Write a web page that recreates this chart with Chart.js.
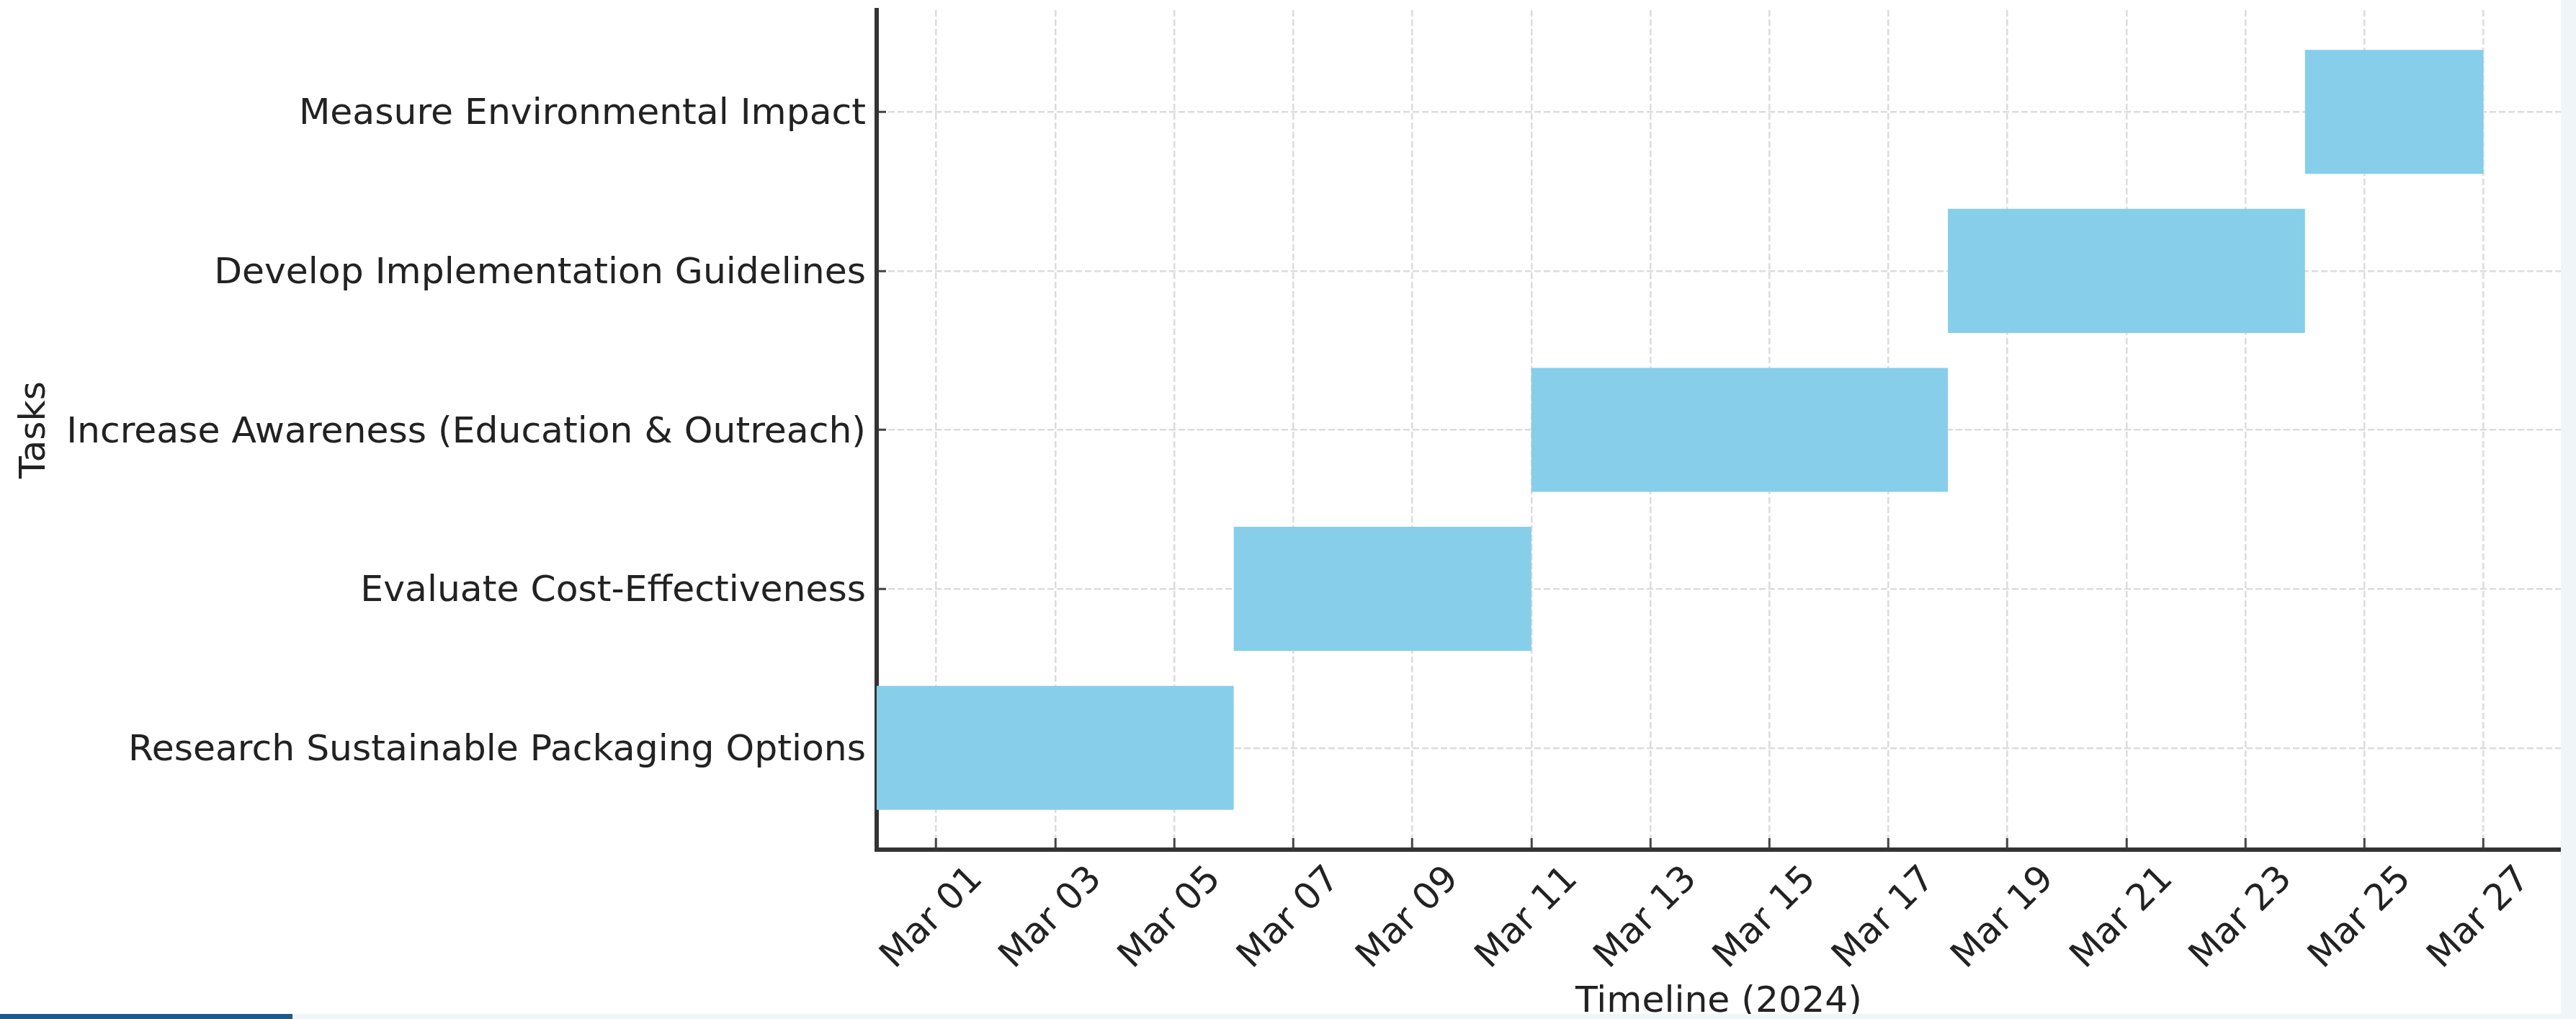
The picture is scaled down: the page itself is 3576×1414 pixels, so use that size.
<!DOCTYPE html>
<html>
<head>
<meta charset="utf-8">
<script src="https://cdn.jsdelivr.net/npm/chart.js@4.4.1/dist/chart.umd.min.js"></script>
<style>
  html, body { margin: 0; padding: 0; background: #f0f5f7; width: 3576px; height: 1414px; overflow: hidden; }
  #wrap { position: absolute; left: 0; top: 0; width: 3555px; height: 1407px; background: #ffffff; }
  #bar { position: absolute; left: 0; top: 1407px; width: 406px; height: 7px; background: #1c5a8b; }
  canvas { display: block; }
</style>
</head>
<body>
<div id="wrap"><canvas id="c" width="3555" height="1407"></canvas></div>
<div id="bar"></div>
<script>
// Tasks (bottom to top), start/end as day-of-March 2024 (0 = Feb 29)
const tasks = [
  'Research Sustainable Packaging Options',
  'Evaluate Cost-Effectiveness',
  'Increase Awareness (Education & Outreach)',
  'Develop Implementation Guidelines',
  'Measure Environmental Impact'
];
const startDays = [0, 6, 11, 18, 24];
const endDays   = [6, 11, 18, 24, 27];
const tickDays   = [1, 3, 5, 7, 9, 11, 13, 15, 17, 19, 21, 23, 25, 27];
const tickLabels = ['Mar 01','Mar 03','Mar 05','Mar 07','Mar 09','Mar 11','Mar 13','Mar 15','Mar 17','Mar 19','Mar 21','Mar 23','Mar 25','Mar 27'];

const FONT = 'DejaVu Sans';
const data = tasks.map((t, i) => ({ y: i, x: [startDays[i], endDays[i]] }));

new Chart(document.getElementById('c'), {
  type: 'bar',
  data: {
    datasets: [{
      data: data,
      backgroundColor: '#87CEEB',
      borderWidth: 0,
      categoryPercentage: 1.0,
      barPercentage: 0.78
    }]
  },
  options: {
    indexAxis: 'y',
    responsive: false,
    animation: false,
    devicePixelRatio: 1,
    layout: { padding: { top: 14, right: 0, bottom: 0, left: 0 } },
    plugins: { legend: { display: false }, tooltip: { enabled: false }, title: { display: false } },
    scales: {
      x: {
        type: 'linear',
        position: 'bottom',
        min: 0,
        max: 28.3,
        offset: false,
        afterBuildTicks: (scale) => { scale.ticks = tickDays.map(v => ({ value: v })); },
        afterFit: (scale) => { scale.height = 228; scale.paddingLeft = 0; scale.paddingRight = 0; },
        ticks: {
          autoSkip: false,
          minRotation: 45,
          maxRotation: 45,
          labelOffset: 57,
          padding: 28,
          color: '#222',
          font: { family: FONT, size: 50.4 },
          callback: (v) => { const k = tickDays.indexOf(v); return k >= 0 ? tickLabels[k] : ''; }
        },
        grid: {
          offset: false,
          color: '#dcdcdc',
          lineWidth: 2.5,
          drawTicks: true,
          tickLength: -16,
          tickColor: '#444',
          tickWidth: 3,
          tickBorderDash: []
        },
        border: { display: true, color: '#333', width: 6, dash: [9, 4] },
        title: {
          display: true,
          text: 'Timeline (2024)',
          color: '#222',
          font: { family: FONT, size: 50.4, lineHeight: 1.0 },
          padding: { top: 0, bottom: -9 }
        }
      },
      y: {
        type: 'linear',
        position: 'left',
        min: -0.64,
        max: 4.64,
        offset: false,
        afterBuildTicks: (scale) => { scale.ticks = tasks.map((t, i) => ({ value: i })); },
        afterFit: (scale) => { scale.width = 1217; scale.paddingTop = 0; scale.paddingBottom = 0; },
        ticks: {
          autoSkip: false,
          padding: 28,
          labelOffset: 4,
          color: '#222',
          font: { family: FONT, size: 50.4 },
          callback: (v) => tasks[v] !== undefined ? tasks[v] : ''
        },
        grid: {
          offset: false,
          color: '#dcdcdc',
          lineWidth: 2.5,
          drawTicks: true,
          tickLength: -13,
          tickColor: '#444',
          tickWidth: 3,
          tickBorderDash: []
        },
        border: { display: true, color: '#333', width: 6, dash: [9, 4] },
        title: {
          display: true,
          text: 'Tasks',
          color: '#222',
          font: { family: FONT, size: 50.4, lineHeight: 1.2 },
          padding: { top: 19, bottom: 0 }
        }
      }
    }
  }
});
</script>
</body>
</html>
